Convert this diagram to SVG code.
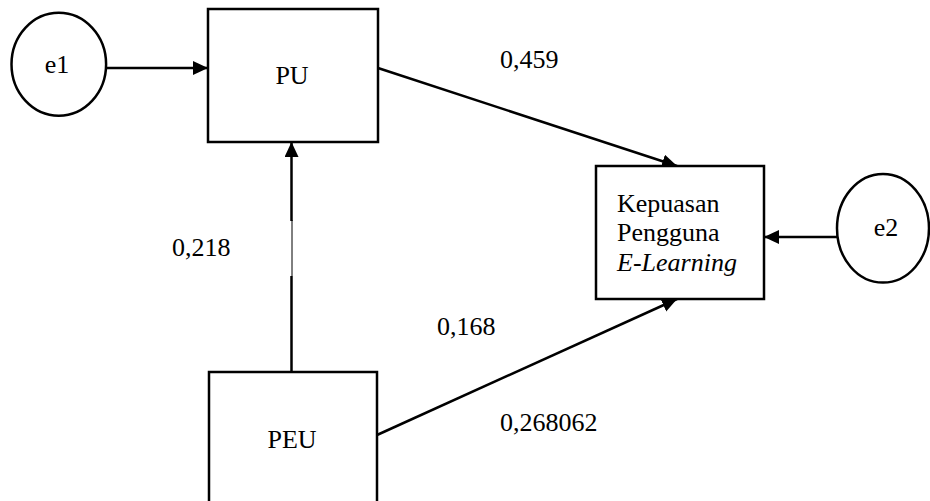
<svg xmlns="http://www.w3.org/2000/svg" width="930" height="501" viewBox="0 0 930 501">
<defs>
<style>
.box{fill:#fff;stroke:#000;stroke-width:2.5}
.ell{fill:#fff;stroke:#000;stroke-width:2.5}
.t{font-family:"Liberation Serif","Times New Roman",serif;font-size:26px;fill:#000}
.c{stroke:#000;stroke-width:2.5;fill:none}
</style>
<marker id="ah" markerUnits="userSpaceOnUse" markerWidth="16" markerHeight="16" refX="15" refY="7" orient="auto" viewBox="0 0 16 16">
<path d="M0,0 L15,7 L0,14 z" fill="#000"/>
</marker>
</defs>
<rect width="930" height="501" fill="#fff"/>
<g id="connectors">
<line class="c" x1="106" y1="68" x2="208" y2="68" marker-end="url(#ah)"/>
<line class="c" x1="291.5" y1="372" x2="291.5" y2="276"/>
<line x1="292" y1="276" x2="292" y2="220" stroke="#000" stroke-width="1"/>
<line class="c" x1="291.5" y1="221" x2="291.5" y2="142" marker-end="url(#ah)"/>
<line class="c" x1="378" y1="68" x2="677" y2="166" marker-end="url(#ah)"/>
<line class="c" x1="377" y1="435" x2="677" y2="299" marker-end="url(#ah)"/>
<line class="c" x1="837" y1="237" x2="764" y2="237" marker-end="url(#ah)"/>
</g>
<g id="e1">
<ellipse class="ell" cx="58.8" cy="64.2" rx="47.3" ry="51.5"/>
<text class="t" x="57" y="73" text-anchor="middle">e1</text>
</g>
<g id="PU">
<rect class="box" x="208" y="9" width="170" height="133"/>
<text class="t" x="292" y="84" text-anchor="middle">PU</text>
</g>
<g id="PEU">
<rect class="box" x="209" y="372" width="168" height="140"/>
<text class="t" x="292" y="448" text-anchor="middle">PEU</text>
</g>
<g id="Kepuasan">
<rect class="box" x="596" y="166" width="168" height="133"/>
<text class="t" x="617" y="212">Kepuasan</text>
<text class="t" x="617" y="241">Pengguna</text>
<text class="t" x="617" y="271" font-style="italic">E-Learning</text>
</g>
<g id="e2">
<ellipse class="ell" cx="883" cy="228.3" rx="46" ry="54.3"/>
<text class="t" x="886" y="236" text-anchor="middle">e2</text>
</g>
<g id="labels">
<text class="t" x="500" y="68">0,459</text>
<text class="t" x="172" y="256">0,218</text>
<text class="t" x="437" y="335">0,168</text>
<text class="t" x="500" y="431">0,268062</text>
</g>
</svg>
